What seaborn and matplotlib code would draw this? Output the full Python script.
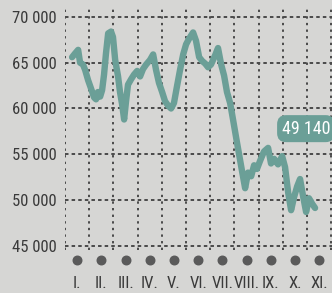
import numpy as np
import pandas as pd
import matplotlib
matplotlib.use("Agg")
import matplotlib.pyplot as plt
import seaborn as sns

# price series, x in months from 1 January
months = [0.29, 0.41, 0.54, 0.62, 0.74, 0.83, 0.95, 1.07, 1.20, 1.28, 1.36, 1.45,
          1.53, 1.61, 1.69, 1.78, 1.90, 1.98, 2.07, 2.19, 2.27, 2.36, 2.44, 2.52,
          2.60, 2.73, 2.85, 2.98, 3.10, 3.22, 3.35, 3.51, 3.64, 3.76, 3.88, 4.01,
          4.13, 4.26, 4.38, 4.50, 4.63, 4.75, 4.88, 5.00, 5.12, 5.29, 5.41, 5.54,
          5.66, 5.79, 5.91, 6.03, 6.20, 6.32, 6.45, 6.57, 6.69, 6.82, 6.94, 7.07,
          7.19, 7.31, 7.44, 7.56, 7.69, 7.81, 7.93, 8.06, 8.22, 8.39, 8.51, 8.64,
          8.80, 8.97, 9.09, 9.22, 9.34, 9.46, 9.59, 9.71, 9.83, 9.96, 10.08, 10.21,
          10.33]
values = [65600, 66000, 66400, 65000, 64800, 64200, 63100, 62200, 61200, 61000,
          61800, 61300, 62000, 63700, 66000, 68200, 68400, 67800, 65300, 63500,
          61800, 60400, 58800, 60800, 62600, 63200, 63700, 64100, 63500, 64300,
          64800, 65300, 65900, 64200, 62800, 61800, 60800, 60300, 60000, 60600,
          62500, 64200, 65900, 67000, 67600, 68300, 67400, 65600, 65200, 64900,
          64500, 64800, 65800, 66600, 64800, 63600, 61800, 60600, 58800, 56800,
          55000, 53200, 51300, 53000, 52600, 53800, 53400, 54300, 55300, 55700,
          54000, 54500, 53900, 54800, 53600, 50800, 48900, 50300, 51500, 52300,
          50500, 48700, 50200, 49600, 49140]

month_labels = ["I.", "II.", "III.", "IV.", "V.", "VI.", "VII.", "VIII.", "IX.", "X.", "XI."]
y_ticks = [45000, 50000, 55000, 60000, 65000, 70000]
last_label = "49 140"

bg = "#d6d6d4"
teal = "#6b9f97"
ink = "#3a3a3a"

sns.set_theme(style="white")
plt.rcParams["font.family"] = ["Liberation Sans Narrow", "Roboto Condensed", "Roboto", "DejaVu Sans"]

df = pd.DataFrame({"month": months, "value": values})

fig = plt.figure(figsize=(3.32, 2.93), dpi=100, facecolor=bg)
ax = fig.add_axes([0.196, 0.147, 0.804, 0.826])
ax.set_facecolor(bg)

sns.lineplot(data=df, x="month", y="value", ax=ax, color=teal, linewidth=4.6,
             solid_capstyle="round", solid_joinstyle="round", zorder=3)

ax.set_xlim(0, 11.03)
ax.set_ylim(44560, 70980)

# grid: month boundaries vertical, price levels horizontal
ax.set_xticks(np.arange(0, 12), minor=True)
ax.set_xticks(np.arange(11) + 0.5)
ax.set_xticklabels(month_labels)
ax.set_yticks(y_ticks)
ax.set_yticklabels([f"{v:,}".replace(",", " ") for v in y_ticks])
ax.grid(False)
ax.grid(True, which="minor", axis="x", color="#4a4a4a", linestyle=(0, (1.2, 2.2)), linewidth=1.4)
ax.grid(True, which="major", axis="y", color="#4a4a4a", linestyle=(0, (1.8, 1.6)), linewidth=1.4)

for s in ax.spines.values():
    s.set_visible(False)

ax.tick_params(axis="y", length=5, width=1.2, color=ink, labelsize=12, labelcolor=ink, pad=1)
ax.tick_params(axis="x", which="both", length=0, labelsize=12, labelcolor=ink, pad=19)
ax.set_xlabel("")
ax.set_ylabel("")

# month dots under the plot
ax.scatter(np.arange(11) + 0.5, np.full(11, -0.04), transform=ax.get_xaxis_transform(),
           s=38, color="#5a5a5a", clip_on=False, zorder=4)

# last value tag
ax.text(9.95, 57800, last_label, color="white", fontsize=13, ha="center", va="center",
        zorder=5, clip_on=False,
        bbox=dict(boxstyle="round,pad=0.25,rounding_size=0.5", fc=teal, ec="none"))

fig.savefig("out.png", dpi=100, facecolor=bg)
